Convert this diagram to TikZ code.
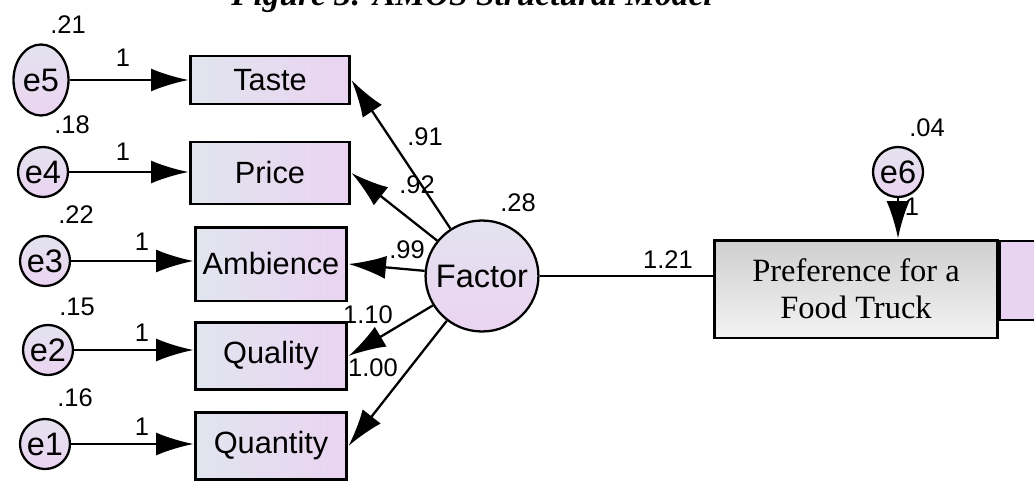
\documentclass[tikz,border=0pt]{standalone}
\usepackage{fontspec}
\setmainfont{Liberation Serif}
\newfontfamily\arialfont{Liberation Sans}
\usetikzlibrary{arrows.meta,positioning,shapes.geometric}
\definecolor{boxleft}{HTML}{E1E5EE}
\definecolor{boxright}{HTML}{EAD3F1}
\definecolor{cirtop}{HTML}{E3E3EF}
\definecolor{cirbot}{HTML}{EBD3F1}
\definecolor{greytop}{HTML}{CFCFCF}
\definecolor{greybot}{HTML}{F3F3F3}
\definecolor{lavbox}{HTML}{E8D3F2}
\tikzset{
  obsbox/.style={draw, line width=1.7pt, left color=boxleft, right color=boxright, inner sep=0pt, font=\arialfont\fontsize{17.5}{20}\selectfont},
  errvar/.style={draw, line width=1.3pt, top color=cirtop, bottom color=cirbot, inner sep=0pt, font=\arialfont\fontsize{18.5}{20}\selectfont},
  numlbl/.style={inner sep=0pt, font=\arialfont\fontsize{14.5}{16}\selectfont},
  path/.style={line width=1.3pt, -{Latex[length=0.75cm,width=0.46cm]}}
}
\begin{document}
\begin{tikzpicture}[x=0.02cm,y=-0.02cm]
\useasboundingbox (0,0) rectangle (1034,483);
\clip (0,0) rectangle (1034,483);
\node[anchor=base, inner sep=0pt, font=\bfseries\itshape\fontsize{19}{20}\selectfont] (ttl) at (472,6) {Figure 3: AMOS Structural Model};
% edit here for the observed boxes
\foreach \n/\t/\x/\y/\w/\h in {taste/Taste/270/80/3.2/0.96, price/Price/270/173/3.2/1.24, amb/Ambience/271/264/3.04/1.48, qual/Quality/271/356/3.04/1.34, quan/Quantity/271/446/3.04/1.34}
\node[obsbox, minimum width=\w cm, minimum height=\h cm] (\n) at (\x,\y) {\t};
% edit here for the errors
\node[errvar, ellipse, minimum width=1.1cm, minimum height=1.42cm] (e5) at (41,80) {e5};
\foreach \n/\x/\y in {e4/43/172, e3/45/261, e2/48/350, e1/45/444}
\node[errvar, circle, minimum size=1.0cm] (\n) at (\x,\y) {\n};
\foreach \a/\b in {e5/taste, e4/price, e3/amb, e2/qual, e1/quan}
\draw[path] (\a) -- (\a -| \b.west);
% latent factor
\node[errvar, ellipse, inner xsep=-3.5pt, minimum width=2.12cm, minimum height=2.22cm] (fac) at (482,276) {Factor};
\foreach \b in {taste, price, amb, qual, quan}
\draw[path] (fac) -- (\b.east);
% outcome
\draw[line width=1.7pt, fill=lavbox] (999,241) rectangle (1070,320);
\node[draw, line width=1.7pt, top color=greytop, bottom color=greybot, minimum width=5.68cm, minimum height=1.96cm, align=center, font=\fontsize{18.5}{21}\selectfont] (pref) at (856,289) {Preference for a\\Food Truck};
\node[errvar, circle, minimum size=1.0cm] (e6) at (898,172) {e6};
\draw[path] (e6) -- (e6 |- pref.north);
\draw[line width=1.3pt] (fac.east) -- (fac.east -| pref.west);
% edit here for the estimates
\foreach \n/\x/\y/\t in {v5/68/25/.21, v4/72/125/.18, v3/76/215/.22, v2/77/307/.15, v1/75/398/.16, v6/927/128/.04, vf/518/203/.28,
  w5/123/58/1, w4/123/152/1, w3/142/242/1, w2/142/333/1, w1/142/427/1, w6/912/207/1,
  l5/425/137/.91, l4/417/185/.92, l3/407/250/.99, l2/368/315/1.10, l1/373/368/1.00, lp/668/260/1.21}
\node[numlbl] (\n) at (\x,\y) {\t};
\end{tikzpicture}
\end{document}
